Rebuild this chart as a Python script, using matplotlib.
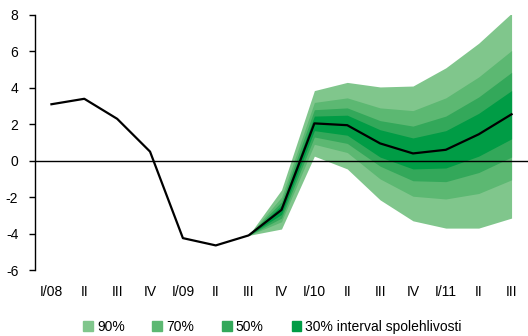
import matplotlib
matplotlib.use("Agg")
import matplotlib.pyplot as plt
from matplotlib.patches import Patch

plt.rcParams['font.family'] = ['Liberation Sans', 'DejaVu Sans']
plt.rcParams['axes.unicode_minus'] = False

quarters = ["I/08", "II", "III", "IV", "I/09", "II", "III", "IV",
            "I/10", "II", "III", "IV", "I/11", "II", "III"]
gdp = [3.1, 3.4, 2.3, 0.5, -4.25, -4.65, -4.1, -2.7,
       2.05, 1.95, 0.95, 0.4, 0.6, 1.45, 2.55]

# fan starts at III/09
fan_start = 6
up90 = [-4.1, -1.6, 3.85, 4.3, 4.05, 4.1, 5.1, 6.45, 8.1]
lo90 = [-4.1, -3.75, 0.25, -0.45, -2.15, -3.3, -3.7, -3.7, -3.15]
up70 = [-4.1, -2.0, 3.2, 3.45, 2.9, 2.75, 3.45, 4.6, 6.05]
lo70 = [-4.1, -3.35, 0.9, 0.45, -1.0, -1.95, -2.1, -1.8, -1.05]
up50 = [-4.1, -2.25, 2.8, 2.9, 2.2, 1.9, 2.45, 3.5, 4.85]
lo50 = [-4.1, -3.15, 1.3, 0.95, -0.3, -1.1, -1.15, -0.65, 0.2]
up30 = [-4.1, -2.45, 2.45, 2.5, 1.7, 1.25, 1.65, 2.6, 3.85]
lo30 = [-4.1, -2.95, 1.65, 1.4, 0.2, -0.45, -0.4, 0.25, 1.2]

bands = [("90%", up90, lo90, "#80c68c"),
         ("70%", up70, lo70, "#5cb872"),
         ("50%", up50, lo50, "#33a85a"),
         ("30% interval spolehlivosti", up30, lo30, "#009c45")]

fig = plt.figure(figsize=(5.28, 3.36), dpi=100)
ax = fig.add_axes([35/528, 66/336, 493/528, 255/336])

x = list(range(len(quarters)))
xf = x[fan_start:]
for name, up, lo, col in bands:
    ax.fill_between(xf, lo, up, color=col, lw=0)

ax.axhline(0, color="black", lw=1)
ax.plot(x, gdp, color="black", lw=1.6)

ax.set_xlim(-0.5, 14.5)
ax.set_ylim(-6, 8)
ax.set_yticks(range(-6, 9, 2))
ax.set_xticks(x)
ax.set_xticklabels(quarters)
ax.tick_params(axis="x", length=0, pad=11, labelsize=10)
ax.tick_params(axis="y", length=4, width=1, labelsize=10, pad=8)
for s in ["top", "right", "bottom"]:
    ax.spines[s].set_visible(False)
ax.spines["left"].set_linewidth(1)

handles = [Patch(color=c, label=n) for n, u, l, c in bands]
fig.legend(handles=handles, loc="lower center", bbox_to_anchor=(0.516, -0.03),
           ncol=4, frameon=False, fontsize=10, handlelength=0.7, handleheight=0.7,
           handletextpad=0.3, columnspacing=2.0)

fig.savefig("out.png", dpi=100)
